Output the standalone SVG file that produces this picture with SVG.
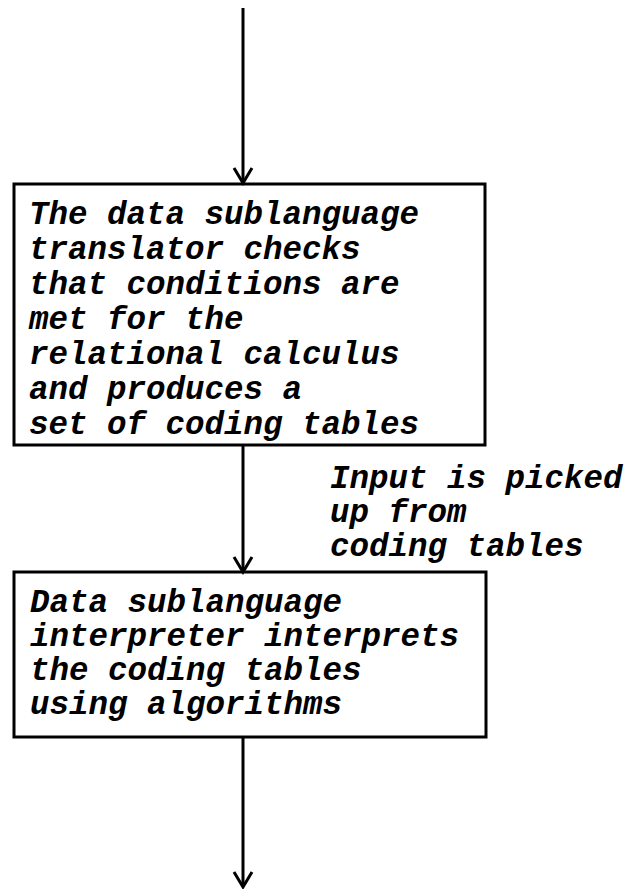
<svg xmlns="http://www.w3.org/2000/svg" width="627" height="889" viewBox="0 0 627 889">
<style>
.box{fill:none;stroke:#000;stroke-width:3}
.ln{fill:none;stroke:#000;stroke-width:3}
.hd{fill:none;stroke:#000;stroke-width:3;stroke-linejoin:miter;stroke-linecap:butt}
text{font-family:"Liberation Mono","Courier New",monospace;font-size:32.5px;font-style:italic;font-weight:bold;fill:#000}
</style>
<rect width="627" height="889" fill="#fff"/>
<g id="connectors">
<line class="ln" x1="243" y1="8" x2="243" y2="182"/>
<polyline class="hd" points="234,168 243,183 252,168"/>
<line class="ln" x1="243" y1="446" x2="243" y2="571"/>
<polyline class="hd" points="234,557 243,572 252,557"/>
<line class="ln" x1="243" y1="738" x2="243" y2="886"/>
<polyline class="hd" points="234,872 243,887 252,872"/>
</g>
<g id="node1">
<rect class="box" x="14" y="184" width="471" height="261"/>
<text x="29" y="224">The data sublanguage</text>
<text x="29" y="259">translator checks</text>
<text x="29" y="294">that conditions are</text>
<text x="29" y="329">met for the</text>
<text x="29" y="364">relational calculus</text>
<text x="29" y="399">and produces a</text>
<text x="29" y="434">set of coding tables</text>
</g>
<g id="label1">
<text x="330" y="488">Input is picked</text>
<text x="330" y="522">up from</text>
<text x="330" y="556">coding tables</text>
</g>
<g id="node2">
<rect class="box" x="14" y="572" width="472" height="165"/>
<text x="30" y="612">Data sublanguage</text>
<text x="30" y="646">interpreter interprets</text>
<text x="30" y="680">the coding tables</text>
<text x="30" y="714">using algorithms</text>
</g>
</svg>
